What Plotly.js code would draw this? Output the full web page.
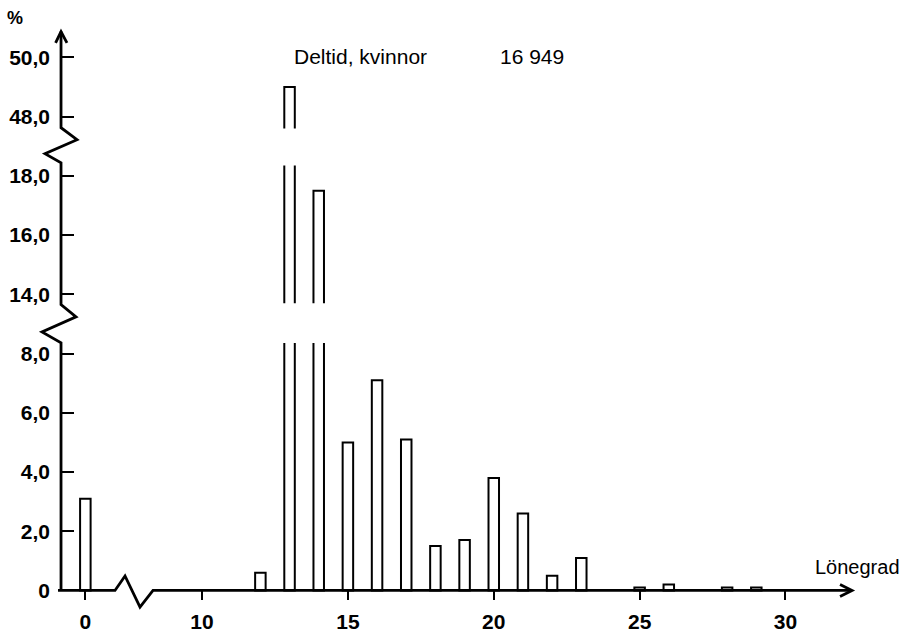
<!DOCTYPE html>
<html>
<head>
<meta charset="utf-8">
<script src="https://cdn.plot.ly/plotly-3.0.1.min.js"></script>
<style>html,body{margin:0;padding:0;background:#fff;}#chart{width:904px;height:632px;}</style>
</head>
<body>
<div id="chart"></div>
<script>
// ---- data ----
const grades = [0, 12, 13, 14, 15, 16, 17, 18, 19, 20, 21, 22, 23, 25, 26, 28, 29];
const shares = [3.1, 0.6, 49.0, 17.5, 5.0, 7.1, 5.1, 1.5, 1.7, 3.8, 2.6, 0.5, 1.1, 0.1, 0.2, 0.1, 0.1];
const xTickGrades = [0, 10, 15, 20, 25, 30];
const xTickText = ['0', '10', '15', '20', '25', '30'];
const yTickValues = [0, 2, 4, 6, 8, 14, 16, 18, 48, 50];
const yTickText = ['0', '2,0', '4,0', '6,0', '8,0', '14,0', '16,0', '18,0', '48,0', '50,0'];
const titleText = 'Deltid, kvinnor';
const countText = '16 949';
const xLabel = 'Lönegrad';
const yLabel = '%';

// ---- broken-axis mappings (grade 0 sits 4 units left of 10; y axis has two breaks) ----
function xPos(g) { return g === 0 ? 6 : g; }
function yPos(v) { return v >= 48 ? v - 32 : (v >= 14 ? v - 4 : v); }

const FONT = 'Liberation Sans, Arial, Helvetica, sans-serif';

const bars = {
  type: 'bar',
  x: grades.map(xPos),
  y: shares.map(yPos),
  width: 0.36,
  marker: { color: '#ffffff', line: { color: '#000000', width: 2 } },
  hoverinfo: 'skip'
};

const AX = 5.166; // y-axis position in x units
const axisLine = { color: '#000', width: 2.8 };
const shapes = [
  // white gaps cutting the broken bars
  { type: 'rect', xref: 'x', yref: 'y', x0: 12.5, x1: 14.5, y0: 8.36, y1: 9.7, fillcolor: '#fff', line: { width: 0 }, layer: 'above' },
  { type: 'rect', xref: 'x', yref: 'y', x0: 12.5, x1: 13.5, y0: 14.35, y1: 15.6, fillcolor: '#fff', line: { width: 0 }, layer: 'above' },
  // y axis with breaks
  { type: 'path', xref: 'x', yref: 'y', layer: 'above', line: axisLine,
    path: `M ${AX},0 L ${AX},8.36 L 4.514,8.73 L 5.68,9.24 L ${AX},9.65 L ${AX},14.44 L 4.617,14.75 L 5.714,15.22 L ${AX},15.625 L ${AX},18.87` },
  { type: 'path', xref: 'x', yref: 'y', layer: 'above', line: axisLine,
    path: `M 4.98,18.49 L ${AX},18.87 L 5.37,18.49` },
  // x axis with break and arrow
  { type: 'path', xref: 'x', yref: 'y', layer: 'above', line: axisLine,
    path: 'M 5.063,0 L 7.017,0 L 7.36,0.49 L 7.874,-0.56 L 8.32,0 L 32.28,0' },
  { type: 'path', xref: 'x', yref: 'y', layer: 'above', line: axisLine,
    path: 'M 31.87,0.2 L 32.28,0 L 31.87,-0.2' }
];

const annotations = [
  { text: yLabel, xref: 'paper', yref: 'paper', x: -0.0142, y: 0.987, showarrow: false, xanchor: 'center', yanchor: 'middle',
    font: { family: FONT, size: 18, color: '#000', weight: 'bold' } },
  { text: titleText, xref: 'x', yref: 'y', x: 13.1, y: 18.02, showarrow: false, xanchor: 'left', yanchor: 'middle',
    font: { family: FONT, size: 21, color: '#000' } },
  { text: countText, xref: 'x', yref: 'y', x: 20.15, y: 18.02, showarrow: false, xanchor: 'left', yanchor: 'middle',
    font: { family: FONT, size: 21, color: '#000' } },
  { text: xLabel, xref: 'x', yref: 'y', x: 30.95, y: 0.8, showarrow: false, xanchor: 'left', yanchor: 'middle',
    font: { family: FONT, size: 20, color: '#000' } }
];

const layout = {
  width: 904, height: 632,
  margin: { l: 27, r: 31, t: 10, b: 6 },
  paper_bgcolor: '#fff', plot_bgcolor: '#fff',
  showlegend: false,
  xaxis: {
    range: [4, 33], showgrid: false, zeroline: false, showline: false,
    anchor: 'free', position: 1.2 / 20.8,
    tickmode: 'array', tickvals: xTickGrades.map(xPos), ticktext: xTickText,
    ticks: 'outside', ticklen: 9, tickwidth: 2, tickcolor: '#000',
    ticklabelstandoff: 3,
    tickfont: { family: FONT, size: 21, color: '#000', weight: 'bold' }
  },
  yaxis: {
    range: [-1.2, 19.6], showgrid: false, zeroline: false, showline: false,
    anchor: 'free', position: (AX - 4) / 29,
    tickmode: 'array', tickvals: yTickValues.map(yPos), ticktext: yTickText,
    ticks: 'inside', ticklen: 12, tickwidth: 2, tickcolor: '#000',
    ticklabelstandoff: 11,
    tickfont: { family: FONT, size: 21, color: '#000', weight: 'bold' }
  },
  shapes: shapes,
  annotations: annotations
};

Plotly.newPlot('chart', [bars], layout, { displayModeBar: false, staticPlot: true });
</script>
</body>
</html>
